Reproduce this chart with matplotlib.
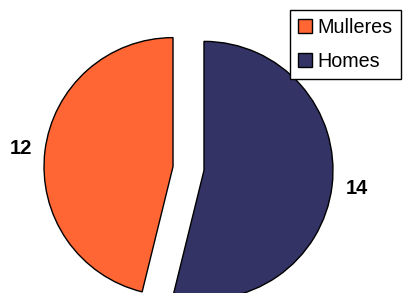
import matplotlib
matplotlib.use("Agg")
import matplotlib.pyplot as plt

categories = ["Mulleres", "Homes"]
values = [12, 14]
colors = ["#FF6633", "#333366"]

plt.rcParams['font.family'] = ['Liberation Sans', 'DejaVu Sans']

W, H = 403, 293
fig = plt.figure(figsize=(W / 100, H / 100), dpi=100)
ax = fig.add_axes([0, 0, 1, 1])

total = sum(values)
start = 90 + 360 * values[0] / total
wedges, texts, autotexts = ax.pie(
    values,
    colors=colors,
    explode=[15.6, 15.6],
    startangle=start,
    counterclock=False,
    radius=129,
    center=(188.5, 124.5),
    autopct=lambda p: f"{round(p * total / 100)}",
    pctdistance=1.19,
    wedgeprops=dict(edgecolor="black", linewidth=1.0),
    textprops=dict(fontsize=14.5, fontweight="bold", color="black"),
)
ax.set_xlim(0, W)
ax.set_ylim(0, H)
ax.axis("off")

leg = ax.legend(
    wedges, categories,
    loc="upper right",
    bbox_to_anchor=(401 / W, 1 - 10 / H),
    bbox_transform=fig.transFigure,
    fontsize=14.2,
    frameon=True,
    fancybox=False,
    edgecolor="black",
    framealpha=1,
    borderaxespad=0,
    borderpad=0.42,
    handlelength=0.72,
    handleheight=0.72,
    handletextpad=0.26,
    labelspacing=0.74,
)
leg.get_frame().set_linewidth(1.0)

fig.savefig("out.png", dpi=100)
